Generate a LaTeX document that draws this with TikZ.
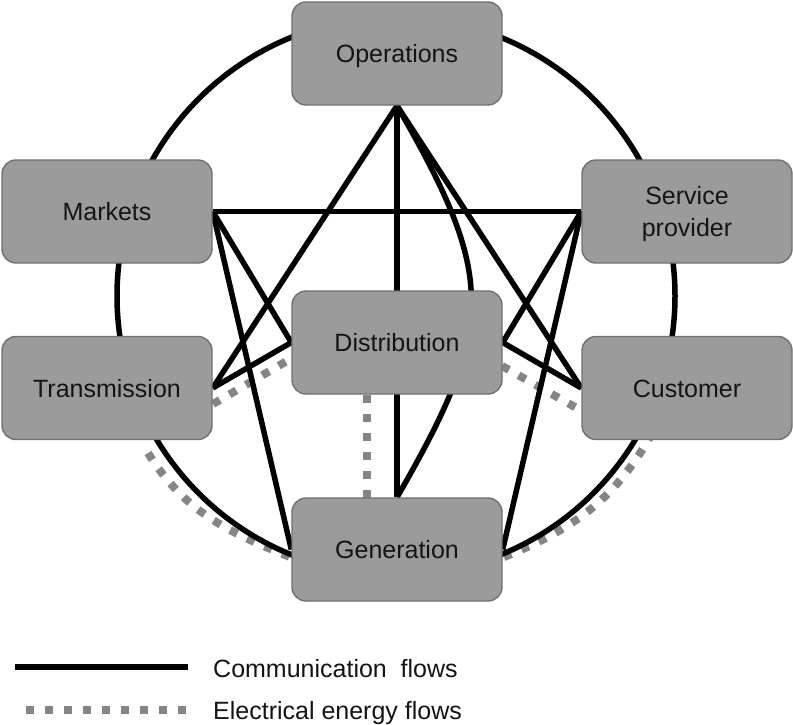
\documentclass[tikz,border=0pt]{standalone}
\usepackage{fontspec}
\setmainfont{Liberation Sans}
\definecolor{boxfill}{HTML}{9B9B9B}
\definecolor{boxedge}{HTML}{707070}
\definecolor{elec}{HTML}{858585}
\definecolor{txt}{HTML}{141414}
\tikzset{
  box/.style={rectangle, rounded corners=14pt, minimum width=210pt, minimum height=103pt,
    fill=boxfill, draw=boxedge, line width=1.4pt, inner sep=0pt, text=txt,
    font=\fontsize{25}{32}\selectfont, text height=18pt, text depth=0pt},
  boxtwo/.style={box, text height=, text depth=0pt, align=center},
  comm/.style={draw=black, line width=5.5pt},
  elecflow/.style={draw=elec, line width=8pt, dash pattern=on 8pt off 11pt},
  legtext/.style={font=\fontsize{25}{30}\selectfont, text=txt, inner sep=0pt}
}
\begin{document}
\begin{tikzpicture}[x=1pt,y=1pt]
\useasboundingbox[fill=white] (0,0) rectangle (793,-725);
% named coordinates for free ends
\coordinate (cc) at (396,-296);
\coordinate (eTl) at (148,-453);
\coordinate (eGl) at (290,-557);
\coordinate (eGr) at (504,-557);
\coordinate (eCr) at (650,-437);
\coordinate (eT) at (213,-404);
\coordinate (eDl) at (292,-358);
\coordinate (eDr) at (502,-366);
\coordinate (eC) at (582,-411);
\coordinate (eDb) at (367,-395);
\coordinate (eGt) at (367,-498);
% node positions (drawn on top later)
\path node[box, draw=none, fill=none] (ops) at (397,-53.5) {}
      node[box, draw=none, fill=none] (mark) at (107,-211.5) {}
      node[box, draw=none, fill=none] (serv) at (687,-211.5) {}
      node[box, draw=none, fill=none] (dist) at (397,-342.5) {}
      node[box, draw=none, fill=none] (trans) at (107,-388) {}
      node[box, draw=none, fill=none] (cust) at (687,-388) {}
      node[box, draw=none, fill=none] (gen) at (397,-549.5) {};
% electrical energy flows
\draw[elecflow] (eTl) to[out=-58,in=158] (eGl);
\draw[elecflow] (eGr) to[out=22,in=-120] (eCr);
\draw[elecflow] (eT) -- (eDl);
\draw[elecflow] (eDr) -- (eC);
\draw[elecflow] (eDb) -- (eGt);
% ring
\draw[comm] (cc) circle[radius=279pt];
% communication flows
\draw[comm] (ops.south) -- (trans.east);
\draw[comm] (ops.south) -- (gen.north);
\draw[comm] (ops.south) to[out=-60,in=60,looseness=1.3] (gen.north);
\draw[comm] (ops.south) -- (cust.west);
\draw[comm] (mark.east) -- (serv.west);
\draw[comm] (mark.east) -- (dist.west);
\draw[comm] (mark.east) -- (gen.west);
\draw[comm] (trans.east) -- (dist.west);
\draw[comm] (serv.west) -- (dist.east);
\draw[comm] (serv.west) -- (gen.east);
\draw[comm] (dist.east) -- (cust.west);
% boxes
\node[box] at (ops) {Operations};
\node[box] at (mark) {Markets};
\node[boxtwo] at (serv) {Service\\provider};
\node[box] at (dist) {Distribution};
\node[box] at (trans) {Transmission};
\node[box] at (cust) {Customer};
\node[box] at (gen) {Generation};
% legend
\coordinate (lc1) at (15,-667);
\coordinate (lc2) at (188,-667);
\coordinate (le1) at (26,-710);
\coordinate (le2) at (186,-710);
\draw[comm] (lc1) -- (lc2);
\draw[elecflow] (le1) -- (le2);
\node[legtext, anchor=base west] (lt1) at (213,-677) {Communication\ \ flows};
\node[legtext, anchor=base west] (lt2) at (213,-719) {Electrical energy flows};
\end{tikzpicture}
\end{document}
